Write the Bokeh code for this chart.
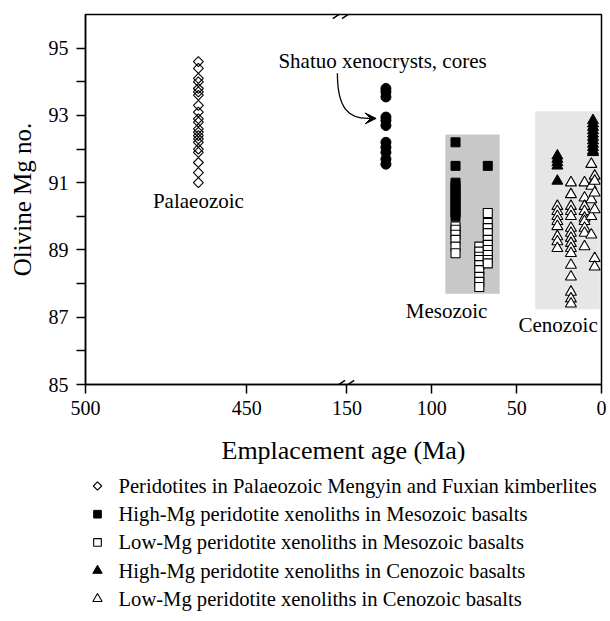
import numpy as np
from bokeh.plotting import figure
from bokeh.layouts import column
from bokeh.models import (Range1d, FixedTicker, Arrow, VeeHead)
from bokeh.core.properties import value
from bokeh.embed import file_html
from bokeh.resources import INLINE

# ---------------- data ----------------
# Palaeozoic kimberlite peridotites (open diamonds)
pal_age = [465] * 21
pal_mg = [94.6, 94.4, 94.1, 94.0, 93.8, 93.7, 93.6, 93.3, 93.1, 92.9, 92.8,
          92.6, 92.5, 92.4, 92.3, 92.2, 92.0, 91.9, 91.6, 91.3, 91.0]

# Shatuo xenocrysts, cores (filled circles)
sha_age = [127] * 11
sha_mg = [93.8, 93.7, 93.55, 92.95, 92.85, 92.7, 92.2, 92.05, 91.9, 91.7, 91.55]

# High-Mg peridotite xenoliths, Mesozoic basalts (filled squares)
mhi_age = [86] * 13 + [67]
mhi_mg = [92.2, 91.5, 91.0, 90.9, 90.8, 90.7, 90.6, 90.5, 90.4, 90.3, 90.2,
          90.1, 90.0, 91.5]

# Low-Mg peridotite xenoliths, Mesozoic basalts (open squares)
mlo_age = [86] * 6 + [72] * 9 + [67] * 10
mlo_mg = [89.7, 89.6, 89.45, 89.3, 89.1, 88.9,
          89.1, 88.95, 88.8, 88.7, 88.55, 88.4, 88.2, 88.05, 87.9,
          90.1, 89.8, 89.65, 89.5, 89.3, 89.15, 89.0, 88.85, 88.7, 88.6]

# High-Mg peridotite xenoliths, Cenozoic basalts (filled triangles)
chi_age = [26] * 5 + [5] * 11
chi_mg = [91.8, 91.7, 91.6, 91.5, 91.05,
          92.85, 92.75, 92.65, 92.55, 92.45, 92.35, 92.25, 92.15, 92.05, 91.95, 91.9]

# Low-Mg peridotite xenoliths, Cenozoic basalts (open triangles)
clo_age = [26] * 8 + [18] * 16 + [10] * 9 + [6] * 5 + [4] * 6
clo_mg = [90.3, 90.15, 90.0, 89.85, 89.7, 89.4, 89.25, 89.05,
          91.0, 90.65, 90.3, 90.15, 90.0, 89.65, 89.5, 89.35, 89.2, 89.05, 88.9,
          88.55, 88.2, 87.75, 87.55, 87.4,
          91.0, 90.55, 90.3, 90.15, 89.95, 89.85, 89.65, 89.5, 89.1,
          91.55, 90.9, 90.5, 90.0, 89.45,
          91.2, 91.05, 90.7, 90.2, 88.75, 88.5]

# shaded age/Mg fields: [age_young, age_old, mg_low, mg_high]
meso_box = [60, 92, 87.7, 92.43]
ceno_box = [1, 39, 87.24, 93.12]

x_tick_ages = [500, 450, 150, 100, 50, 0]
x_tick_labels = ["500", "450", "150", "100", "50", "0"]
y_ticks = [85, 86, 87, 88, 89, 90, 91, 92, 93, 94, 95]
y_tick_labels = ["85", "", "87", "", "89", "", "91", "", "93", "", "95"]

annot_text = ["Palaeozoic", "Shatuo xenocrysts, cores", "Mesozoic", "Cenozoic"]
annot_age = [465, 129, 91.3, 25.6]
annot_mg = [90.45, 94.63, 87.18, 86.76]

legend_keys = ["pal", "mhi", "mlo", "chi", "clo"]
legend_labels = [
    "Peridotites in Palaeozoic Mengyin and Fuxian kimberlites",
    "High-Mg peridotite xenoliths in Mesozoic basalts",
    "Low-Mg peridotite xenoliths in Mesozoic basalts",
    "High-Mg peridotite xenoliths in Cenozoic basalts",
    "Low-Mg peridotite xenoliths in Cenozoic basalts",
]

# ---------------- broken axis transform ----------------
BREAK_U = 152.0      # plot coordinate of the break
BREAK_AGE = 420.0    # age at left side of break
LEFT_STRETCH = 1.9   # left segment is stretched


def to_u(age):
    a = np.asarray(age, dtype=float)
    return np.where(a <= 300, a, BREAK_U + (a - BREAK_AGE) * LEFT_STRETCH)


FONT = "Liberation Serif"
U_MAX = float(to_u(500))
LEFT, TOP, FW, FH, AX_PANEL = 85, 14, 516, 370, 89

p = figure(frame_width=FW, frame_height=FH,
           x_range=Range1d(U_MAX, 0), y_range=Range1d(85, 96),
           output_backend="svg", toolbar_location=None,
           min_border_left=LEFT, min_border_right=8, min_border_top=TOP,
           min_border_bottom=AX_PANEL)
p.grid.visible = False
p.background_fill_color = "white"
p.outline_line_color = "black"
p.outline_line_width = 1.5

STY = {
    "pal": dict(marker="square", angle=np.pi / 4, size=7, fill_alpha=0,
                line_color="black", line_width=1.1),
    "mhi": dict(marker="square", size=9, fill_color="black", line_color="black"),
    "mlo": dict(marker="square", size=9, fill_color="white", line_color="black",
                line_width=1.1),
    "chi": dict(marker="triangle", size=11, fill_color="black", line_color="black"),
    "clo": dict(marker="triangle", size=11, fill_color="white", line_color="black",
                line_width=1.1),
}

# shaded boxes
p.quad(left=to_u([meso_box[0]]), right=to_u([meso_box[1]]),
       bottom=[meso_box[2]], top=[meso_box[3]], fill_color="#c8c8c8", line_color=None)
p.quad(left=to_u([ceno_box[0]]), right=to_u([ceno_box[1]]),
       bottom=[ceno_box[2]], top=[ceno_box[3]], fill_color="#e6e6e6", line_color=None)

p.scatter(to_u(pal_age), pal_mg, **STY["pal"])
p.scatter(to_u(sha_age), sha_mg, marker="circle", size=10, fill_color="black",
          line_color="black")
p.scatter(to_u(mhi_age), mhi_mg, **STY["mhi"])
p.scatter(to_u(mlo_age), mlo_mg, **STY["mlo"])
p.scatter(to_u(chi_age), chi_mg, **STY["chi"])
p.scatter(to_u(clo_age), clo_mg, **STY["clo"])

# annotation texts
p.text(x=to_u(annot_age), y=annot_mg, text=annot_text, text_font=value(FONT),
       text_font_size="21px", text_align="center", text_baseline="middle",
       text_color="black")

# curved arrow to Shatuo xenocrysts
p.bezier(x0=[155.6], y0=[94.25], x1=[137.5], y1=[92.91],
         cx0=[155.6], cy0=[93.2], cx1=[149.0], cy1=[92.91],
         line_color="black", line_width=1.3)
p.add_layout(Arrow(end=VeeHead(size=11, fill_color="black", line_color="black"),
                   x_start=138.0, y_start=92.91, x_end=132.8, y_end=92.91,
                   line_color="black", line_width=1.3))

# axis break marks
for off in (2.7, -2.7):
    for yb, dy in ((96.0, 0.12), (85.0, 0.12)):
        p.add_layout(Arrow(end=None, x_start=BREAK_U + off + 3.6, y_start=yb - dy,
                           x_end=BREAK_U + off - 3.6, y_end=yb + dy,
                           line_color="black", line_width=1.5))

# axes
xt = [round(float(v), 6) for v in to_u(x_tick_ages)]
p.xaxis.ticker = FixedTicker(ticks=xt)
p.xaxis.major_label_overrides = {t: l for t, l in zip(xt, x_tick_labels)}
p.yaxis.ticker = FixedTicker(ticks=y_ticks)
p.yaxis.major_label_overrides = {t: l for t, l in zip(y_ticks, y_tick_labels)}

for ax in (p.xaxis[0], p.yaxis[0]):
    ax.axis_line_color = "black"
    ax.axis_line_width = 1.5
    ax.major_tick_line_color = "black"
    ax.major_tick_line_width = 1.5
    ax.major_tick_in = 0
    ax.major_tick_out = 9
    ax.minor_tick_line_color = None
    ax.major_label_text_font = FONT
    ax.major_label_text_font_size = "20px"
    ax.major_label_text_color = "black"
    ax.axis_label_text_font = FONT
    ax.axis_label_text_font_style = "normal"
    ax.axis_label_text_color = "black"

p.xaxis.axis_label = "Emplacement age (Ma)"
p.yaxis.axis_label = "Olivine Mg no."
p.xaxis.axis_label_text_font_size = "26px"
p.yaxis.axis_label_text_font_size = "25px"
p.xaxis.major_label_standoff = 7
p.yaxis.major_label_standoff = 8
p.xaxis.axis_label_standoff = 18
p.yaxis.axis_label_standoff = 10

# ---------------- legend strip below (page-pixel coordinates) ----------------
MAIN_H = TOP + FH + AX_PANEL
LEG_H = 146
lg = figure(frame_width=FW + 6, frame_height=LEG_H,
            x_range=Range1d(LEFT, LEFT + FW + 6),
            y_range=Range1d(MAIN_H + LEG_H, MAIN_H),
            x_axis_type=None, y_axis_type=None,
            output_backend="svg", toolbar_location=None,
            min_border_left=LEFT, min_border_right=2, min_border_top=0,
            min_border_bottom=0)
lg.grid.visible = False
lg.outline_line_color = None

row_y = [485.5 + 28.2 * i for i in range(len(legend_labels))]
for key, yy in zip(legend_keys, row_y):
    st = dict(STY[key])
    st["size"] = st["size"] * 0.85
    lg.scatter([97], [yy], **st)
lg.text(x=[118] * len(legend_labels), y=row_y, text=legend_labels,
        text_font=value(FONT), text_font_size="20.6px", text_align="left",
        text_baseline="middle", text_color="black")

layout = column(p, lg, spacing=0)
open("out.html", "w").write(file_html(layout, INLINE))
